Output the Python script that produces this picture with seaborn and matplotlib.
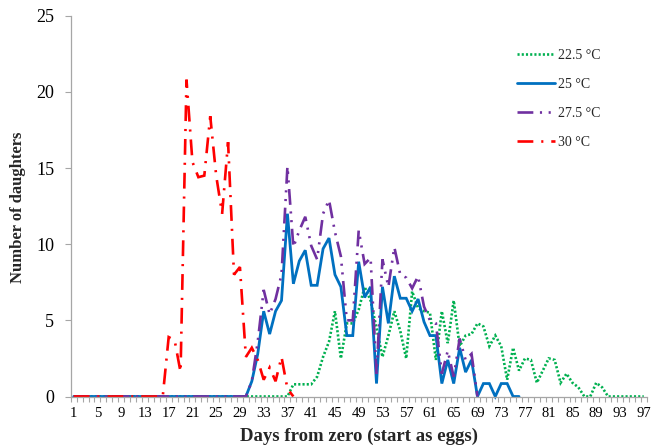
import matplotlib
matplotlib.use("Agg")
import matplotlib.pyplot as plt
import seaborn as sns
import numpy as np
import pandas as pd

# ---------------- data ----------------
days_225 = list(range(1, 98))
vals_225 = [0] * 37 + [
    0.8, 0.8, 0.8, 0.8, 1.3, 2.6, 3.6, 5.6, 2.5, 4.8,      # 38-47
    4.8, 5.7, 7.2, 6.3, 4.5, 2.6, 4.0, 5.6, 4.3, 2.5,      # 48-57
    6.9, 5.8, 5.6, 5.5, 2.4, 5.6, 3.5, 6.3, 3.3, 4.0,      # 58-67
    4.1, 4.8, 4.6, 3.3, 4.0, 3.3, 1.1, 3.2, 1.7, 2.5,      # 68-77
    2.4, 0.9, 1.7, 2.5, 2.4, 0.9, 1.5, 0.9, 0.6, 0,        # 78-87
    0, 0.9, 0.6, 0, 0, 0, 0, 0, 0, 0]                      # 88-97

days_25 = list(range(1, 77))
vals_25 = [0] * 30 + [
    1.0, 2.8, 5.6, 4.1, 5.6, 6.3, 12.0, 7.4, 8.9, 9.6,     # 31-40
    7.3, 7.3, 9.7, 10.4, 8.0, 7.2, 4.0, 4.0, 8.85, 6.5,    # 41-50
    7.2, 0.85, 7.2, 4.8, 7.9, 6.45, 6.45, 5.6, 6.4, 4.9,   # 51-60
    4.0, 4.0, 0.85, 2.4, 0.85, 3.2, 1.6, 2.4, 0, 0.85,     # 61-70
    0.85, 0, 0.85, 0.85, 0, 0]                             # 71-76

days_275 = list(range(1, 70))
vals_275 = [0] * 30 + [
    1.0, 3.6, 7.0, 5.4, 6.4, 8.0, 15.1, 9.8, 10.9, 11.8,   # 31-40
    9.9, 9.0, 12.0, 12.9, 10.8, 9.2, 5.0, 5.0, 10.9, 8.7,  # 41-50
    9.1, 1.5, 9.0, 7.2, 9.8, 8.0, 7.8, 7.1, 7.9, 5.9,      # 51-60
    5.0, 4.8, 1.5, 3.0, 1.3, 3.8, 2.4, 2.8, 0]             # 61-69

days_30 = list(range(1, 39))
vals_30 = [0] * 16 + [
    3.9, 3.7, 1.6, 20.8, 15.4, 14.4, 14.5, 18.4, 14.5, 12.0,  # 17-26
    16.7, 8.0, 8.5, 2.6, 3.2, 2.4, 1.1, 1.9, 1.0, 2.6,        # 27-36
    0.5, 0]                                                  # 37-38

series_labels = ["22.5 °C", "25 °C", "27.5 °C", "30 °C"]
x_tick_labels = list(range(1, 98, 4))
y_ticks = [0, 5, 10, 15, 20, 25]

# ---------------- styling ----------------
sns.set_theme(style="white")
plt.rcParams["font.family"] = ["Liberation Serif", "DejaVu Serif"]

fig = plt.figure(figsize=(6.51, 4.45), dpi=100)
ax = fig.add_axes([70.7 / 651, 1 - 396.5 / 445, (646.7 - 70.7) / 651, (396.5 - 15.7) / 445])

styles = [
    dict(color="#00B050", linestyle=(0, (0.8, 0.8)), lw=1.9),
    dict(color="#0070C0", linestyle="-", lw=2.0),
    dict(color="#7030A0", linestyle=(0, (6, 2.5, 0.8, 2.5, 0.8, 2.5)), lw=1.9),
    dict(color="#FF0000", linestyle=(0, (6, 3, 0.8, 3)), lw=1.9),
]
data = [(days_225, vals_225), (days_25, vals_25), (days_275, vals_275), (days_30, vals_30)]

for (d, v), lab, st in zip(data, series_labels, styles):
    df = pd.DataFrame({"day": d, "n": v})
    sns.lineplot(data=df, x="day", y="n", ax=ax, label=lab, clip_on=False,
                 solid_joinstyle="miter", dash_joinstyle="miter", **st)

ax.set_xlim(0.5, 97.5)
ax.set_ylim(0, 25)
ax.set_xticks(x_tick_labels)
ax.set_xticklabels([str(t) for t in x_tick_labels])
ax.set_xticks(np.arange(0.5, 98, 1), minor=True)
ax.set_yticks(y_ticks)
ax.set_yticklabels([str(t) for t in y_ticks])

for s in ["top", "right"]:
    ax.spines[s].set_visible(False)
for s in ["left", "bottom"]:
    ax.spines[s].set_color("#A6A6A6")
    ax.spines[s].set_linewidth(0.9)

ax.tick_params(axis="x", which="major", length=0, pad=7.5, labelsize=10.5, labelcolor="black")
ax.tick_params(axis="x", which="minor", length=3.5, width=0.8, color="#A6A6A6", direction="out", bottom=True)
ax.tick_params(axis="y", which="major", length=4, width=0.8, color="#A6A6A6", direction="out",
               left=True, pad=8, labelsize=13, labelcolor="black")
ax.grid(False)

ax.set_xlabel("Days from zero (start as eggs)", fontsize=13.5, fontweight="bold")
ax.set_ylabel("Number of daughters", fontsize=12, fontweight="bold")
ax.xaxis.set_label_coords(359 / 651, 1 - 436 / 445, transform=fig.transFigure)
ax.yaxis.set_label_coords(18.5 / 651, 1 - 207 / 445, transform=fig.transFigure)
ax.xaxis.label.set_va("center")
ax.yaxis.label.set_va("center")

leg = ax.legend(loc="upper left", bbox_to_anchor=(517 / 651, 1 - 49 / 445),
                bbox_transform=fig.transFigure, frameon=False, fontsize=10,
                handlelength=2.7, handletextpad=0.25, labelspacing=1.15,
                borderpad=0, borderaxespad=0)

fig.savefig("out.png", dpi=100, facecolor="white")
